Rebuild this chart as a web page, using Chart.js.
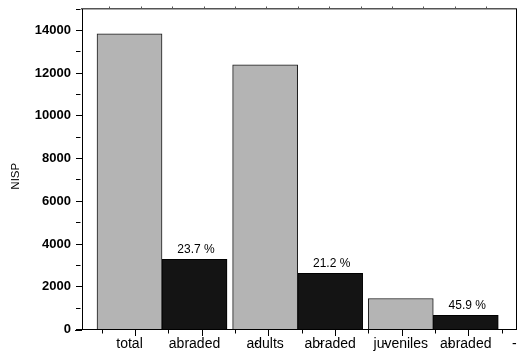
<!DOCTYPE html>
<html>
<head>
<meta charset="utf-8">
<script src="https://cdn.jsdelivr.net/npm/chart.js@4"></script>
<style>
  html, body { margin: 0; padding: 0; background: #fff; }
  #wrap { width: 518px; height: 351px; }
</style>
</head>
<body>
<div id="wrap"><canvas id="c" width="518" height="351"></canvas></div>
<script>
// NISP counts: all specimens per group and the abraded part of each
const categories = ['total', 'adults', 'juveniles'];
const abradedLabel = 'abraded';
const nispAll = [13840, 12390, 1450];
const nispAbraded = [3280, 2627, 666];

// y axis: 0..15000, a tick every 1000, labelled every 2000
const yMax = 15000;
const yStep = 1000;
const yLabelEvery = 2000;

// bottom axis tick marks (in group units), every other one is a major tick
const xTickStart = -0.4447;
const xTickStep = 0.2458;
const xTickCount = 13;
// leftover "-" tick labels of the bottom axis (in group units)
const dashLabel = '-';
const dashStart = 0.695;
const dashStep = 0.4757;
const dashCount = 5;
// top axis tick marks (in top-axis units)
const topTickCount = 13;

const FONT = "'Liberation Sans', Arial, sans-serif";

const pctLabels = nispAbraded.map((v, i) => (v / nispAll[i] * 100).toFixed(1) + ' %');

function vLine(ctx, x, y1, y2, color) {
  ctx.strokeStyle = color;
  ctx.beginPath();
  ctx.moveTo(Math.round(x) + 0.5, y1);
  ctx.lineTo(Math.round(x) + 0.5, y2);
  ctx.stroke();
}

const framePlugin = {
  id: 'frameTicks',
  afterDraw(chart) {
    const ctx = chart.ctx;
    const area = chart.chartArea;
    const xs = chart.scales.x;
    const xt = chart.scales.xTop;
    const bottom = Math.round(area.bottom);
    ctx.save();
    ctx.lineWidth = 1;
    // bottom ticks: long at odd positions, short in between
    for (let k = 0; k < xTickCount; k++) {
      const px = xs.getPixelForValue(xTickStart + k * xTickStep);
      const len = k % 2 === 1 ? 6 : 3.5;
      vLine(ctx, px, bottom, bottom + len, '#000');
    }
    // small outward ticks on the top frame
    for (let k = 0; k < topTickCount; k++) {
      const px = xt.getPixelForValue(k);
      vLine(ctx, px, area.top - 2.5, area.top, '#555');
    }
    // bottom axis line runs a little past the left frame
    ctx.strokeStyle = '#000';
    ctx.beginPath();
    ctx.moveTo(area.left - 7, bottom + 0.5);
    ctx.lineTo(area.left, bottom + 0.5);
    ctx.stroke();
    ctx.restore();
  }
};

const labelsPlugin = {
  id: 'barLabels',
  afterDatasetsDraw(chart) {
    const ctx = chart.ctx;
    const area = chart.chartArea;
    const xs = chart.scales.x;
    const grey = chart.getDatasetMeta(0).data;
    const black = chart.getDatasetMeta(1).data;
    ctx.save();
    ctx.fillStyle = '#000';
    // percentage above each abraded bar
    ctx.font = '12px ' + FONT;
    ctx.textAlign = 'center';
    ctx.textBaseline = 'alphabetic';
    black.forEach((bar, i) => {
      ctx.fillText(pctLabels[i], bar.x + 1.5, bar.y - 6.5);
    });
    // bar names under the axis
    ctx.font = '14px ' + FONT;
    const baseY = area.bottom + 18;
    grey.forEach((bar, i) => {
      ctx.fillText(categories[i], bar.x, baseY);
      ctx.fillText(abradedLabel, black[i].x, baseY);
    });
    for (let k = 0; k < dashCount; k++) {
      ctx.fillText(dashLabel, xs.getPixelForValue(dashStart + k * dashStep), baseY);
    }
    // y axis title
    ctx.font = '11.5px ' + FONT;
    ctx.translate(16, (area.top + area.bottom) / 2 + 7);
    ctx.rotate(-Math.PI / 2);
    ctx.textBaseline = 'middle';
    ctx.fillText('NISP', 0, 0);
    ctx.restore();
  }
};

new Chart(document.getElementById('c'), {
  type: 'bar',
  data: {
    datasets: [
      {
        label: 'all',
        data: nispAll.map((v, i) => ({ x: i, y: v })),
        backgroundColor: '#b4b4b4',
        borderColor: '#1a1a1a',
        borderWidth: 1,
        borderSkipped: 'bottom'
      },
      {
        label: 'abraded',
        data: nispAbraded.map((v, i) => ({ x: i, y: v })),
        backgroundColor: '#141414',
        borderColor: '#000',
        borderWidth: 1,
        borderSkipped: 'bottom'
      }
    ]
  },
  options: {
    responsive: false,
    animation: false,
    devicePixelRatio: 1,
    barThickness: 65,
    layout: { padding: { top: 9, right: 2, left: 0, bottom: 0 } },
    plugins: { legend: { display: false }, tooltip: { enabled: false } },
    scales: {
      x: {
        type: 'linear',
        position: 'bottom',
        offset: false,
        min: -0.59,
        max: 2.61,
        afterFit(axis) { axis.height = 21.5; },
        ticks: { display: false },
        grid: { display: false, offset: false },
        border: { display: true, color: '#000', width: 1 }
      },
      xTop: {
        type: 'linear',
        position: 'top',
        offset: false,
        min: -0.87,
        max: 12.95,
        ticks: { display: false },
        grid: { display: false, offset: false },
        afterFit(axis) { axis.height = 0; },
        border: { display: true, color: '#555', width: 1.5 }
      },
      y: {
        type: 'linear',
        position: 'left',
        min: 0,
        max: yMax,
        afterFit(axis) {
          axis.width = 82;
          axis.paddingTop = 0;
          axis.paddingBottom = 0;
        },
        ticks: {
          stepSize: yStep,
          padding: 5,
          color: '#000',
          font: { family: FONT, size: 13, weight: 'bold' },
          callback: (v) => (v % yLabelEvery === 0 ? String(v) : '')
        },
        grid: {
          drawOnChartArea: false,
          drawTicks: true,
          tickLength: 6,
          tickColor: '#000',
          tickBorderDash: (ctx) => (ctx.tick && ctx.tick.value % yLabelEvery === 0 ? [] : [4.5, 20])
        },
        border: { display: true, color: '#000', width: 1 }
      },
      yRight: {
        type: 'linear',
        position: 'right',
        ticks: { display: false },
        grid: { drawOnChartArea: false, drawTicks: false },
        afterFit(axis) { axis.width = 0; },
        border: { display: true, color: '#000', width: 1 }
      }
    }
  },
  plugins: [labelsPlugin, framePlugin]
});
</script>
</body>
</html>
